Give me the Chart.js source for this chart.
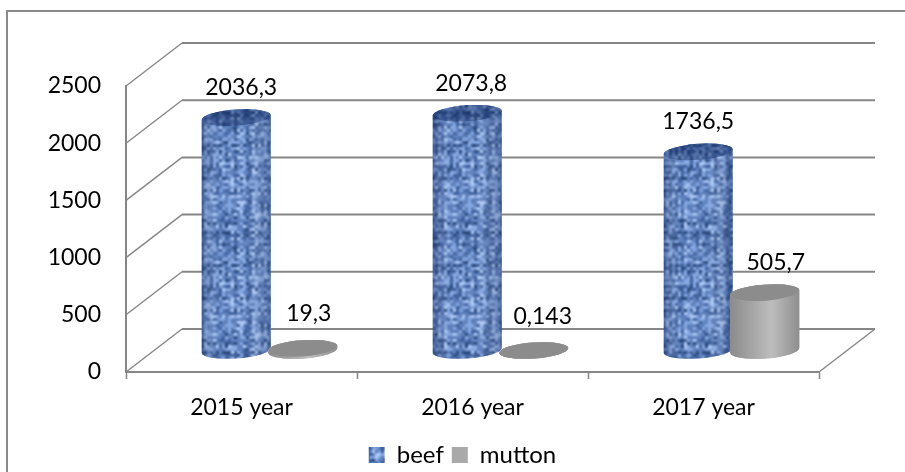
<!DOCTYPE html>
<html><head><meta charset="utf-8">
<style>html,body{margin:0;padding:0;background:#fff}canvas{display:block}</style>
<script src="https://cdn.jsdelivr.net/npm/chart.js@4"></script>
</head><body><div style="width:905px;height:472px;position:relative"><canvas id="c" width="905" height="472"></canvas></div>
<script>
const categories = ['2015 year','2016 year','2017 year'];
const beef = [2036.3, 2073.8, 1736.5];
const mutton = [19.3, 0.143, 505.7];
const yTicks = [0,500,1000,1500,2000,2500];

const GRID='#868686', DX=56, DY=43, RY=8, ROT=-4*Math.PI/180, FS=23;
function weave(){
  const N=40,t=document.createElement('canvas'); t.width=t.height=N;
  const g=t.getContext('2d');
  let seed=4242; const r=()=>(seed=(seed*1103515245+12345)&0x7fffffff)/0x7fffffff;
  const rows=[],cols=[];for(let i=0;i<N;i++){rows.push(r());cols.push(r());}
  const pal=['#234379','#3a5c9a','#587cba','#80a3de','#a9c5f2'];
  for(let y=0;y<N;y++)for(let x=0;x<N;x++){
    const base=(x+y)%2?rows[y]:cols[x];
    const v=Math.min(.999,Math.max(0,base*.5+r()*.5));
    g.fillStyle=pal[Math.floor(v*pal.length)];g.fillRect(x,y,1,1);
  }
  const t3=document.createElement('canvas');t3.width=t3.height=N*3;
  const g3=t3.getContext('2d');
  for(let a=0;a<3;a++)for(let b=0;b<3;b++)g3.drawImage(t,a*N,b*N);
  const S=N*3,s=document.createElement('canvas'); s.width=s.height=S;
  const h=s.getContext('2d'); h.imageSmoothingEnabled=true; h.imageSmoothingQuality='high';
  h.drawImage(t3,-S,-S,S*3,S*3);
  return document.getElementById('c').getContext('2d').createPattern(s,'repeat');
}
const beefFill=weave();
const muttonFill='#a9a9a9';

const frame={id:'frame',beforeDatasetsDraw(ch){
  const c=ch.ctx;c.save();c.strokeStyle='#8a8a8a';c.lineWidth=2;
  c.beginPath();c.moveTo(7,472);c.lineTo(7,11);c.lineTo(905,11);c.stroke();c.restore();
}};
const legendShift={id:'legendShift',afterLayout(ch){
  const l=ch.legend;l.left+=53;l.right+=53;l.top+=11;l.bottom+=11;
}};
const walls={id:'walls',beforeDatasetsDraw(ch){
  const c=ch.ctx,y=ch.scales.y,a=ch.chartArea;
  c.save();c.strokeStyle=GRID;
  yTicks.forEach(t=>{const p=y.getPixelForValue(t);
    c.lineWidth=1.4;c.beginPath();c.moveTo(a.left,p);c.lineTo(a.left+DX,p-DY);c.stroke();
    c.lineWidth=2;c.beginPath();c.moveTo(a.left+DX,p-DY);c.lineTo(a.right+DX,p-DY);c.stroke();});
  const b=y.getPixelForValue(0);
  c.lineWidth=1.4;c.beginPath();c.moveTo(a.right,b);c.lineTo(a.right+DX,b-DY);c.stroke();
  c.restore();
}};
const cyl={id:'cyl',beforeDatasetDraw(){return false;},afterDatasetsDraw(ch){
  const c=ch.ctx;
  ch.data.datasets.forEach((ds,i)=>{
    const isBeef=i===0;
    ch.getDatasetMeta(i).data.forEach(el=>{
      const rx=el.width*0.52,cx=el.x+DX/2,ty=el.y-DY/2,by=el.base-DY/2;
      c.save();
      c.beginPath();
      c.ellipse(cx,by,rx,RY,ROT,0,Math.PI,false);
      c.ellipse(cx,ty,rx,RY,ROT,Math.PI,2*Math.PI,false);
      c.closePath();
      c.fillStyle=ds.backgroundColor;c.fill();
      const g=c.createLinearGradient(cx-rx,0,cx+rx,0);
      if(isBeef){g.addColorStop(0,'rgba(20,40,90,.35)');g.addColorStop(.25,'rgba(255,255,255,.03)');g.addColorStop(.65,'rgba(255,255,255,.05)');g.addColorStop(1,'rgba(20,40,90,.35)');}
      else{g.addColorStop(0,'#8b8b8b');g.addColorStop(.6,'#bdbdbd');g.addColorStop(1,'#8e8e8e');}
      c.fillStyle=g;c.fill();
      c.beginPath();c.ellipse(cx,ty,rx,RY,ROT,0,2*Math.PI);
      c.fillStyle=ds.backgroundColor;c.fill();
      c.fillStyle=isBeef?'rgba(20,40,90,.4)':'#8c8c8c';c.fill();
      c.restore();
    });
  });
}};
const labelShift=[[[5,0],[4,0],[0,0]],[[6,-5],[9,-4],[11,0]]];
const values={id:'values',afterDatasetsDraw(ch){
  const c=ch.ctx;c.save();c.fillStyle='#000';c.font=FS+'px Lato, Carlito, sans-serif';c.textAlign='center';c.textBaseline='middle';
  ch.data.datasets.forEach((ds,i)=>ch.getDatasetMeta(i).data.forEach((el,j)=>{
    const s=labelShift[i][j];
    c.fillText(String(ds.data[j]).replace('.',','),el.x+DX/2+s[0],el.y-DY/2-30+s[1]);
  }));
  c.restore();
}};

Chart.defaults.font.family='Lato, Carlito, sans-serif';
new Chart(document.getElementById('c'),{
  type:'bar',
  data:{labels:categories,datasets:[
    {label:'beef',data:beef,backgroundColor:beefFill,categoryPercentage:0.576,barPercentage:1},
    {label:'mutton',data:mutton,backgroundColor:muttonFill,categoryPercentage:0.576,barPercentage:1}]},
  plugins:[legendShift,frame,walls,cyl,values],
  options:{responsive:false,animation:false,
    layout:{padding:{left:0,right:86,top:86,bottom:6}},
    plugins:{tooltip:{enabled:false},
      legend:{position:'bottom',labels:{color:'#000',boxWidth:16,boxHeight:16,font:{size:24},padding:8}}},
    scales:{
      x:{grid:{display:true,drawOnChartArea:false,offset:true,tickLength:7,tickColor:GRID,tickWidth:1.5},
        border:{color:GRID,width:2},
        ticks:{color:'#000',font:{size:FS},padding:15,maxRotation:0},
        afterFit(s){s.height=472-372-s.chart.legend.height-6;}},
      y:{min:0,max:2500,grid:{display:false,drawTicks:true,tickLength:8,tickColor:GRID},
        border:{color:GRID,width:2},
        ticks:{stepSize:500,color:'#000',font:{size:FS},padding:17,callback:v=>String(v)},
        afterFit(s){s.width=126;}}
    }}
});
</script></body></html>
